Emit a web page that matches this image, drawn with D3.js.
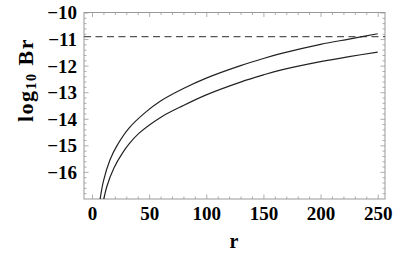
<html>
<head>
    <meta charset="utf-8">
    <script src="https://d3js.org/d3.v7.min.js"></script>
    <style>
        body { margin: 0; background: #fff; }
        .tick text { font-family: "Liberation Serif", "Times New Roman", serif; font-weight: bold; }
    </style>
</head>
<body>
    <div id="cont"></div>
    <script>
        // values
        var xTicks = [0, 50, 100, 150, 200, 250];
        var yTicks = [-16, -15, -14, -13, -12, -11, -10];
        var dashLevel = -10.91;

        var upperR = [6.5, 10, 15.7, 22, 32.4, 47, 60, 80, 100, 130, 150, 165, 200, 225, 250];
        var upperY = [-17.2, -16.35, -15.55, -15.0, -14.35, -13.75, -13.33, -12.86, -12.47, -12.0, -11.73, -11.55, -11.2, -11.0, -10.80];

        var lowerR = [9.5, 13, 19.2, 26.5, 33, 41, 60, 80, 100, 130, 150, 165, 200, 225, 250];
        var lowerY = [-17.2, -16.55, -15.85, -15.3, -14.92, -14.55, -13.95, -13.5, -13.1, -12.62, -12.35, -12.17, -11.85, -11.66, -11.49];

        var W = 409, H = 253;
        var pL = 84, pR = 385, pT = 12.5, pB = 199;

        var svg = d3.select("#cont").append("svg")
            .attr("width", W)
            .attr("height", H);

        var x = d3.scaleLinear().domain([-7, 256.4]).range([pL, pR]);
        var y = d3.scaleLinear().domain([-17.02, -10]).range([pB, pT]);

        var minorX = d3.range(0, 251, 10).filter(function (v) { return v % 50 != 0; });
        var minorY = d3.range(-17, -10, 0.2).map(function (v) { return +v.toFixed(1); })
            .filter(function (v) { return Math.abs(v - Math.round(v)) > 0.01; });

        var frameCol = "#999";

        function tickAxis(axis, tr, vals, size, labels) {
            var g = svg.append("g").attr("transform", tr)
                .call(axis.tickValues(vals).tickSizeInner(size).tickSizeOuter(0)
                    .tickFormat(labels ? d3.format("") : ""));
            g.select(".domain").remove();
            g.selectAll(".tick line").attr("stroke", frameCol).attr("stroke-width", 0.8);
            return g;
        }

        // major ticks with labels
        var gx = tickAxis(d3.axisBottom(x), "translate(0," + pB + ")", xTicks, -4.5, true);
        gx.selectAll(".tick text").attr("font-size", 19).attr("fill", "#000").attr("y", 8).attr("dy", "0.71em");
        var gy = tickAxis(d3.axisLeft(y), "translate(" + pL + ",0)", yTicks, -4.5, true);
        gy.selectAll(".tick text").attr("font-size", 19).attr("fill", "#000").attr("x", -7).attr("dy", "0.34em");
        tickAxis(d3.axisTop(x), "translate(0," + pT + ")", xTicks, -4.5, false);
        tickAxis(d3.axisRight(y), "translate(" + pR + ",0)", yTicks, -4.5, false);

        // minor ticks
        tickAxis(d3.axisBottom(x), "translate(0," + pB + ")", minorX, -2.5, false);
        tickAxis(d3.axisTop(x), "translate(0," + pT + ")", minorX, -2.5, false);
        tickAxis(d3.axisLeft(y), "translate(" + pL + ",0)", minorY, -2.5, false);
        tickAxis(d3.axisRight(y), "translate(" + pR + ",0)", minorY, -2.5, false);

        svg.append("rect")
            .attr("x", pL).attr("y", pT)
            .attr("width", pR - pL).attr("height", pB - pT)
            .attr("fill", "none").attr("stroke", frameCol).attr("stroke-width", 1);

        svg.append("clipPath").attr("id", "plotclip")
            .append("rect")
            .attr("x", pL).attr("y", pT)
            .attr("width", pR - pL).attr("height", pB - pT);

        var plot = svg.append("g").attr("clip-path", "url(#plotclip)");

        plot.append("line")
            .attr("x1", x(-7)).attr("x2", x(256.4))
            .attr("y1", y(dashLevel)).attr("y2", y(dashLevel))
            .attr("stroke", "#555").attr("stroke-width", 1.2)
            .attr("stroke-dasharray", "7,4.5");

        var line = d3.line()
            .x(function (d) { return x(d[0]); })
            .y(function (d) { return y(d[1]); })
            .curve(d3.curveCatmullRom);

        [[upperR, upperY], [lowerR, lowerY]].forEach(function (s) {
            plot.append("path")
                .datum(d3.zip(s[0], s[1]))
                .attr("d", line)
                .attr("fill", "none")
                .attr("stroke", "#222")
                .attr("stroke-width", 1.2);
        });

        // axis titles
        svg.append("text")
            .attr("x", 234).attr("y", 248)
            .attr("text-anchor", "middle")
            .attr("font-family", "Liberation Serif, serif")
            .attr("font-weight", "bold")
            .attr("font-size", 20)
            .text("r");

        var yt = svg.append("text")
            .attr("transform", "translate(33,80) rotate(-90)")
            .attr("text-anchor", "middle")
            .attr("font-family", "Liberation Serif, serif")
            .attr("font-weight", "bold")
            .attr("font-size", 22)
            .attr("letter-spacing", 1.5);
        yt.append("tspan").text("log");
        yt.append("tspan").attr("font-size", 14).attr("dy", 3).text("10");
        yt.append("tspan").attr("dy", -3).text(" Br");
    </script>
</body>
</html>
